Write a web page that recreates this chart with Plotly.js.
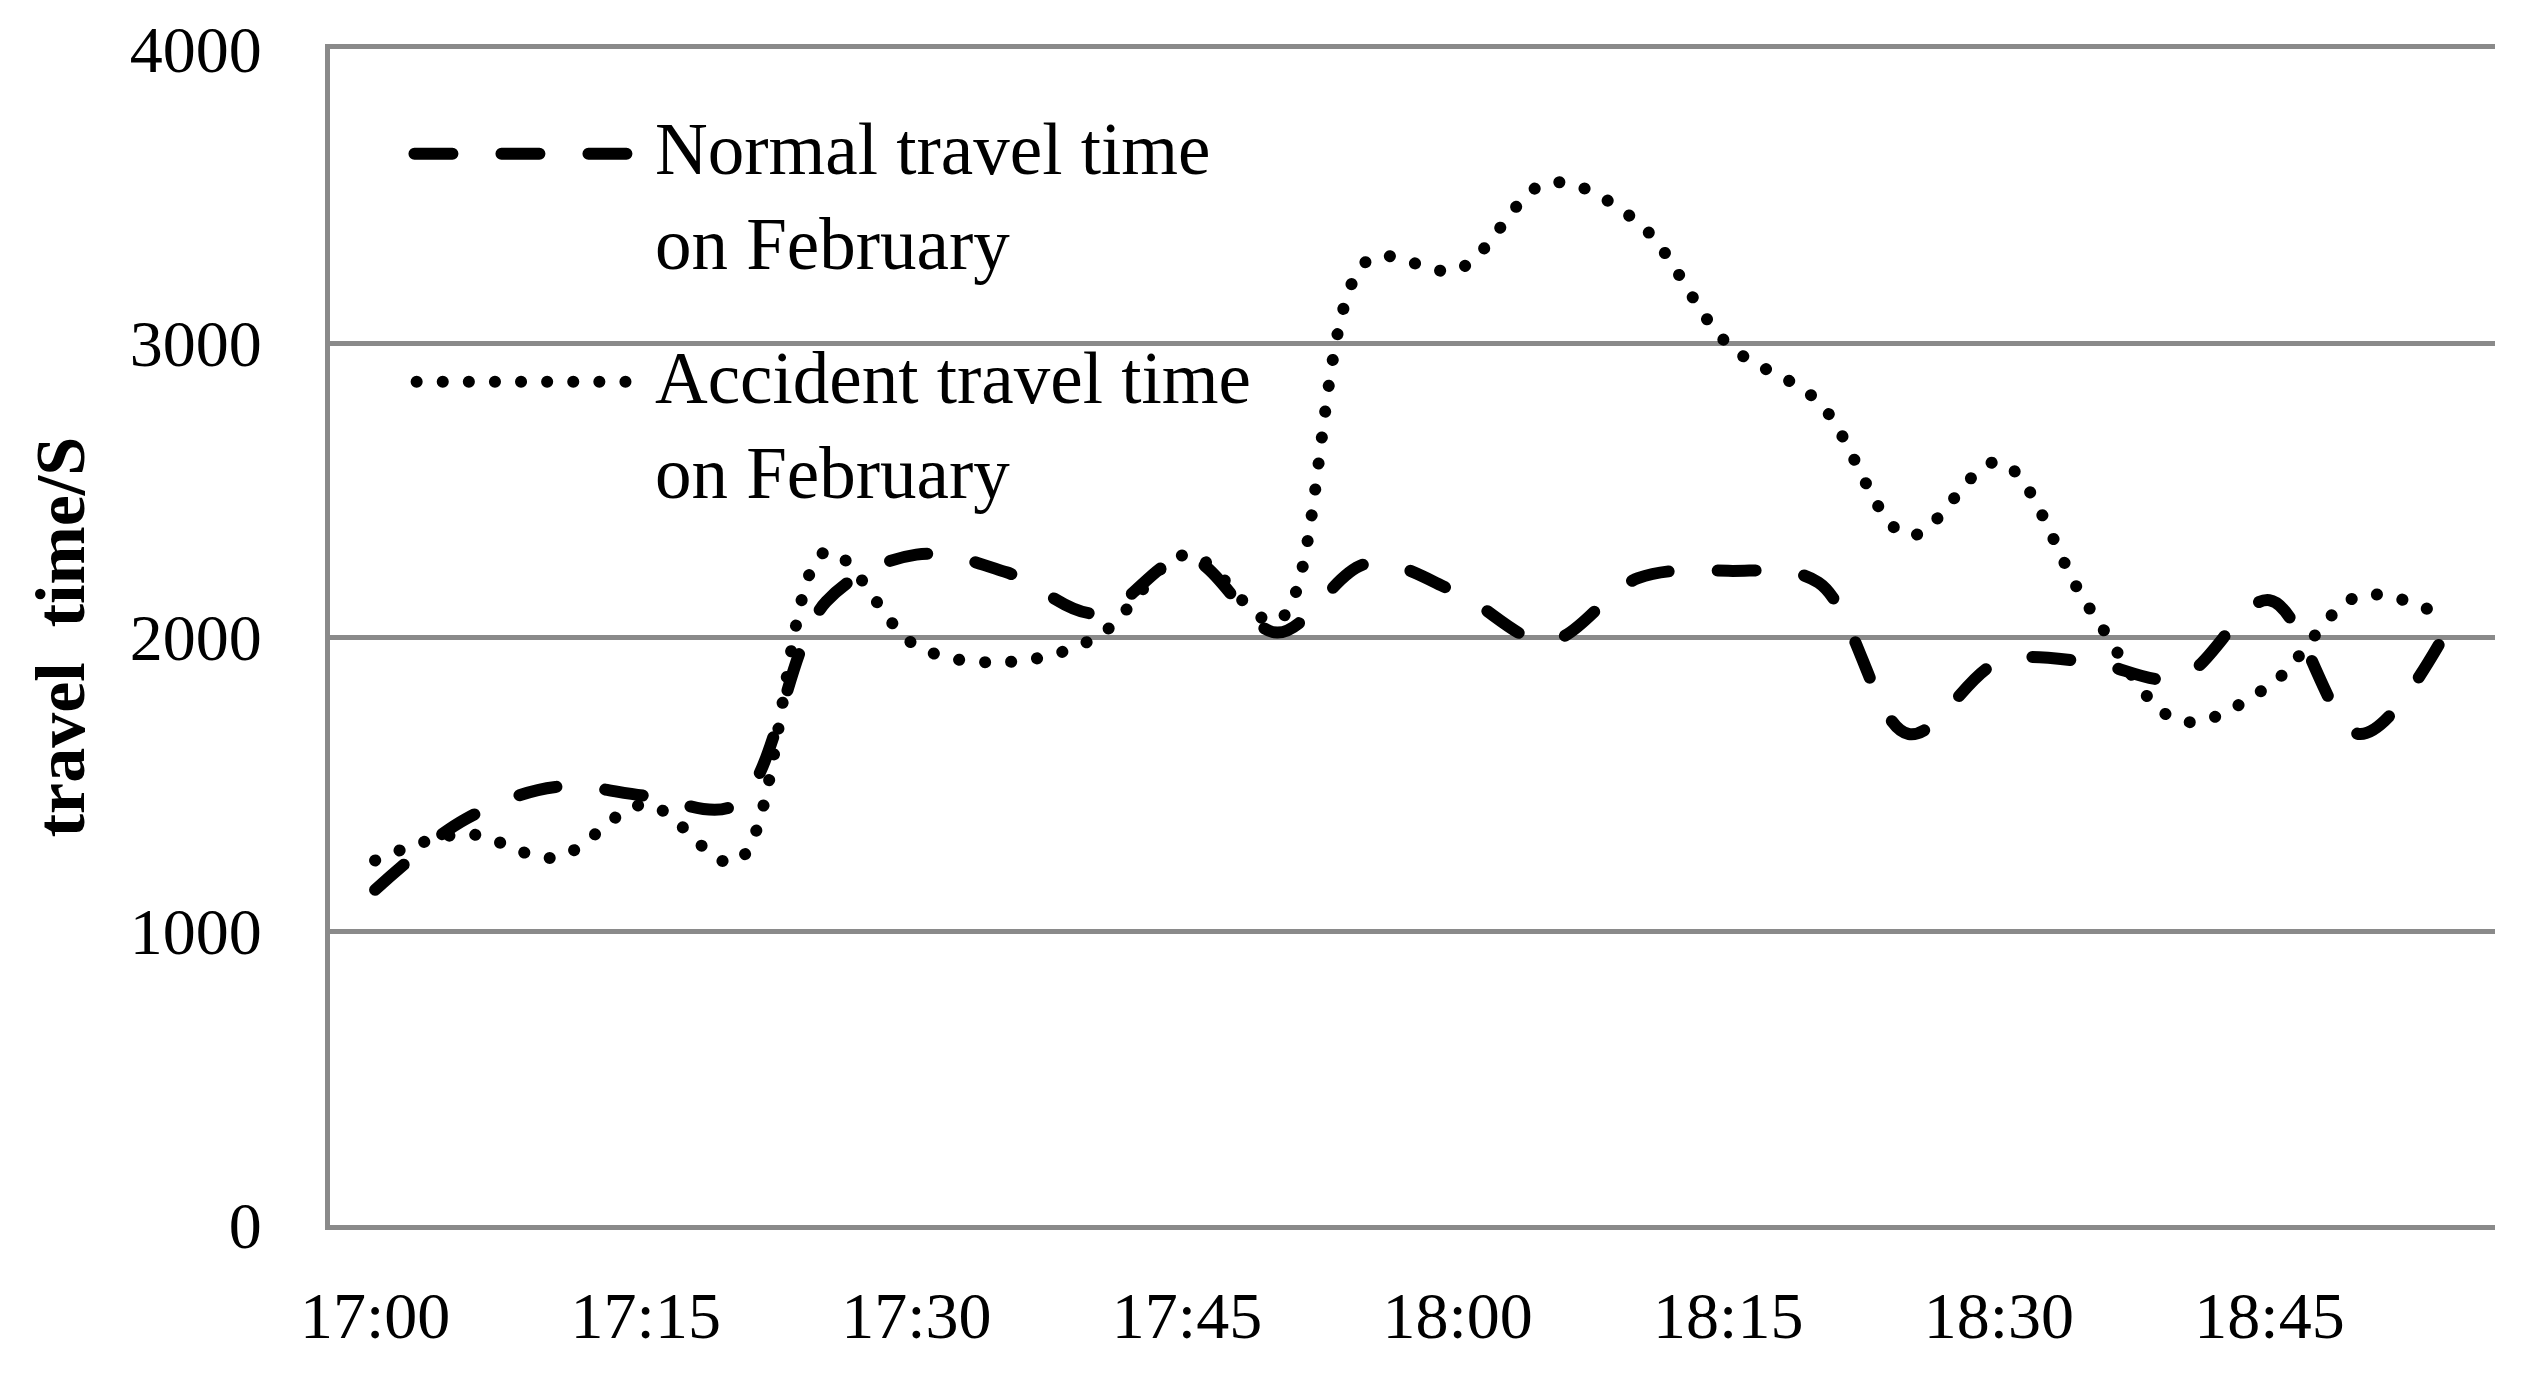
<!DOCTYPE html>
<html>
<head>
<meta charset="utf-8">
<script src="https://cdn.plot.ly/plotly-3.0.1.min.js"></script>
<style>
  body { margin: 0; background: #fff; }
  #chart { width: 2527px; height: 1373px; }
  /* round caps so the dotted line is made of dots, as in the original */
  .js-line, .shapelayer path { stroke-linecap: round; }
</style>
</head>
<body>
<div id="chart"></div>
<script>
// travel time every 5 minutes, 17:00 - 18:55
const times = ['17:00', '17:05', '17:10', '17:15', '17:20', '17:25', '17:30', '17:35',
               '17:40', '17:45', '17:50', '17:55', '18:00', '18:05', '18:10', '18:15',
               '18:20', '18:25', '18:30', '18:35', '18:40', '18:45', '18:50', '18:55'];
const normalTime = [1140, 1380, 1490, 1460, 1430, 2120, 2280, 2220, 2080, 2270, 2015, 2250,
                    2150, 1985, 2200, 2225, 2185, 1670, 1915, 1915, 1860, 2125, 1670, 2040];
const accidentTime = [1240, 1330, 1250, 1430, 1235, 2290, 1970, 1915, 2000, 2280, 2055, 3280,
                      3250, 3545, 3410, 2995, 2800, 2345, 2595, 2100, 1715, 1835, 2140, 2060];
const tickLabels = ['17:00', '17:15', '17:30', '17:45', '18:00', '18:15', '18:30', '18:45'];
const seriesNames = ['Normal travel time<br>on February', 'Accident travel time<br>on February'];

const FONT = 'Liberation Serif, Times New Roman, serif';
const GRID = '#8a8a8a';
const DASH = '38px,49px';
const DOT = '0.1px,26px';

const normalTrace = {
    x: times,
    y: normalTime,
    type: 'scatter',
    mode: 'lines',
    name: seriesNames[0],
    line: {color: '#000', width: 12, dash: DASH, shape: 'spline', smoothing: 1}
};

const accidentTrace = {
    x: times,
    y: accidentTime,
    type: 'scatter',
    mode: 'lines',
    name: seriesNames[1],
    line: {color: '#000', width: 12, dash: DOT, shape: 'spline', smoothing: 1}
};

// legend drawn by hand so the line samples are as long as in the original
const legendShapes = [
    {type: 'line', xref: 'paper', yref: 'paper', x0: 0.039, x1: 0.139, y0: 0.911, y1: 0.911,
     line: {color: '#000', width: 12, dash: DASH}},
    {type: 'line', xref: 'paper', yref: 'paper', x0: 0.040, x1: 0.138, y0: 0.717, y1: 0.717,
     line: {color: '#000', width: 12, dash: DOT}}
];
const legendText = [
    {xref: 'paper', yref: 'paper', x: 0.149, y: 0.874, xanchor: 'left', yanchor: 'middle',
     align: 'left', showarrow: false, text: seriesNames[0],
     font: {family: FONT, size: 73, color: '#000'}},
    {xref: 'paper', yref: 'paper', x: 0.149, y: 0.679, xanchor: 'left', yanchor: 'middle',
     align: 'left', showarrow: false, text: seriesNames[1],
     font: {family: FONT, size: 73, color: '#000'}}
];

Plotly.newPlot('chart', [normalTrace, accidentTrace], {
    width: 2527,
    height: 1373,
    margin: {l: 330, r: 32, t: 49, b: 148},
    paper_bgcolor: '#fff',
    plot_bgcolor: '#fff',
    showlegend: false,
    font: {family: FONT, color: '#000'},
    xaxis: {
        type: 'category',
        range: [-0.5, times.length - 0.5],
        tickmode: 'array',
        tickvals: tickLabels,
        ticktext: tickLabels,
        ticks: '',
        ticklabelstandoff: 29,
        tickfont: {family: FONT, size: 66, color: '#000'},
        showgrid: false,
        zeroline: false,
        showline: true,
        mirror: true,
        linecolor: GRID,
        linewidth: 5
    },
    yaxis: {
        range: [0, 4000],
        tickmode: 'linear',
        tick0: 0,
        dtick: 1000,
        ticks: '',
        ticklabelstandoff: 50,
        tickfont: {family: FONT, size: 66, color: '#000'},
        showgrid: true,
        gridcolor: GRID,
        gridwidth: 5,
        zeroline: false,
        showline: true,
        linecolor: GRID,
        linewidth: 5,
        title: {
            text: 'travel  time/S',
            standoff: 24,
            font: {family: FONT, size: 70, color: '#000', weight: 'bold'}
        }
    },
    shapes: legendShapes,
    annotations: legendText
}, {displayModeBar: false, staticPlot: true});
</script>
</body>
</html>
